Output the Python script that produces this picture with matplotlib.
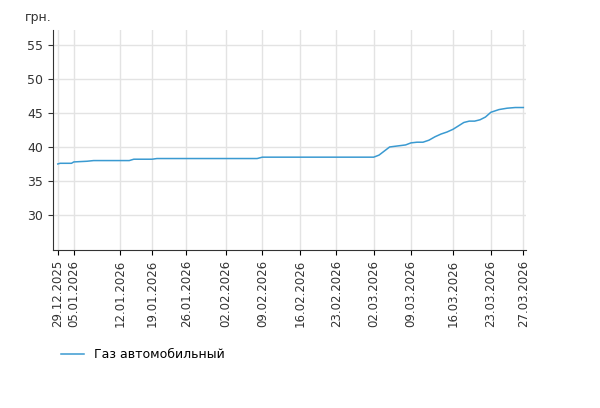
import matplotlib
matplotlib.use("Agg")
import matplotlib.pyplot as plt
import numpy as np
import pandas as pd

dates = ["2025-12-29","2025-12-30","2026-01-04","2026-01-05","2026-01-07","2026-01-08","2026-01-14","2026-01-15",
         "2026-01-19","2026-01-20","2026-02-08","2026-02-09","2026-03-02","2026-03-03","2026-03-04","2026-03-05",
         "2026-03-06","2026-03-07","2026-03-08","2026-03-09","2026-03-10","2026-03-11","2026-03-12","2026-03-13",
         "2026-03-14","2026-03-15","2026-03-16","2026-03-17","2026-03-18","2026-03-19","2026-03-20","2026-03-21",
         "2026-03-22","2026-03-23","2026-03-24","2026-03-25","2026-03-26","2026-03-27"]
values = [37.5,37.6,37.6,37.8,37.9,38.0,38.0,38.2,
          38.2,38.3,38.3,38.5,38.5,38.8,39.4,40.0,
          40.1,40.2,40.3,40.6,40.7,40.7,41.0,41.5,
          41.9,42.2,42.6,43.1,43.6,43.8,43.8,44.0,
          44.4,45.1,45.5,45.7,45.8,45.8]
tick_labels = ["29.12.2025","05.01.2026","12.01.2026","19.01.2026","26.01.2026","02.02.2026","09.02.2026",
               "16.02.2026","23.02.2026","02.03.2026","09.03.2026","16.03.2026","23.03.2026","27.03.2026"]
# observation index of each tick date on the (category-like) x axis
tick_index = [0, 3, 11.7, 17.7, 24.1, 31.6, 38.4, 45.5, 52.3, 59.3, 66.3, 74.2, 81.3, 87.4]
series_name = "Газ автомобильный"
color = "#3a9ad1"

tick_dates = pd.to_datetime(tick_labels, format="%d.%m.%Y")
tick_ord = np.array([t.toordinal() for t in tick_dates], float)
def to_axis(ds):
    o = np.array([pd.Timestamp(x).toordinal() for x in ds], float)
    return np.interp(o, tick_ord, tick_index)

fig = plt.figure(figsize=(6, 4.08), dpi=100)
ax = fig.add_axes([53/600, 1-250/408, 473/600, 220/408])
ax.plot(to_axis(dates), values, color=color, lw=1.1, label=series_name)
ax.set_xticks(tick_index)
ax.set_xticklabels(tick_labels, rotation=90, fontsize=8.5, color="#333333")
ax.set_xlim(-0.9, 87.9)
ax.set_ylim(24.85, 57.2)
ax.set_yticks([30,35,40,45,50,55])
ax.tick_params(axis="y", labelsize=9, colors="#333333")
ax.grid(True, color="#e3e3e3", lw=1)
ax.set_axisbelow(True)
for s in ["top","right"]:
    ax.spines[s].set_visible(False)
for s in ["left","bottom"]:
    ax.spines[s].set_color("#333333")
fig.text(25/600, 1-18/408, "грн.", fontsize=9, color="#333333", va="center")
fig.legend(loc="center left", bbox_to_anchor=(50/600, 1-355/408), frameon=False, fontsize=9,
           handlelength=1.8)
fig.savefig("out.png")
